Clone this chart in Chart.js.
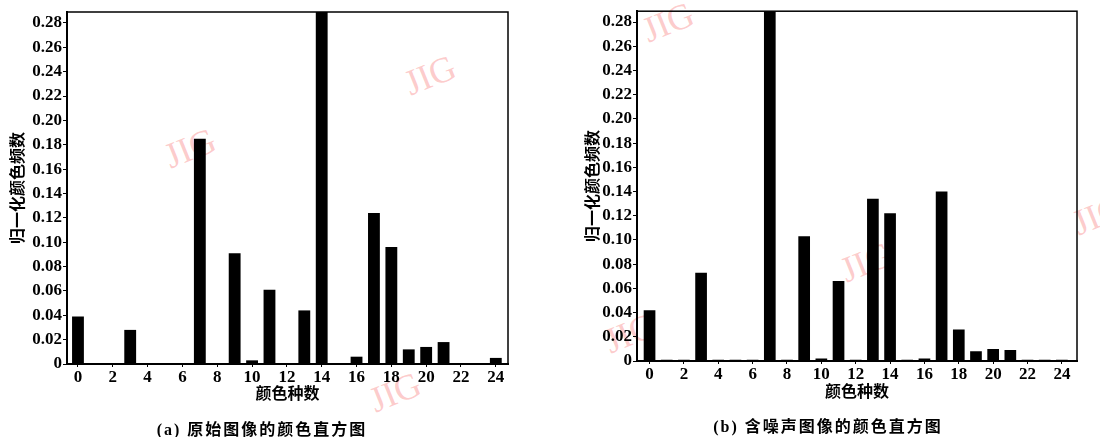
<!DOCTYPE html>
<html>
<head>
<meta charset="utf-8">
<script src="https://cdn.jsdelivr.net/npm/chart.js@4.4.0/dist/chart.umd.min.js"></script>
<style>
  body { margin: 0; background: #fff; width: 1100px; height: 437px; overflow: hidden; position: relative; }
  .box { position: absolute; top: 0; width: 550px; height: 437px; z-index: 1; }
  .caption { position: absolute; z-index: 2; font: bold 16px "Liberation Serif", "Noto Sans CJK SC", serif; letter-spacing: 2px; transform: translate(-50%, -50%); white-space: nowrap; color: #000; }
  .mark { position: absolute; z-index: 0; font: 36px "Liberation Serif", serif; color: rgba(250, 140, 140, 0.45); transform: translate(-50%, -50%) rotate(-22deg); }
</style>
</head>
<body>
<div class="mark" style="left:430px;top:75px">JIG</div>
<div class="mark" style="left:190px;top:148px">JIG</div>
<div class="mark" style="left:395px;top:392px">JIG</div>
<div class="mark" style="left:668px;top:22px">JIG</div>
<div class="mark" style="left:866px;top:262px">JIG</div>
<div class="mark" style="left:630px;top:333px">JIG</div>
<div class="mark" style="left:1098px;top:215px">JIG</div>

<div class="box" style="left:0"><canvas id="chartA"></canvas></div>
<div class="box" style="left:550px"><canvas id="chartB"></canvas></div>
<div class="caption" style="left:262px;top:428px">(a) 原始图像的颜色直方图</div>
<div class="caption" style="left:828px;top:425px">(b) 含噪声图像的颜色直方图</div>

<script>
// colour bins 0..24
const colorIndex = [0, 1, 2, 3, 4, 5, 6, 7, 8, 9, 10, 11, 12, 13, 14, 15, 16, 17, 18, 19, 20, 21, 22, 23, 24];
// (a) original image, bin 14 runs past the top
const originalFreq = [0.039, 0, 0, 0.028, 0, 0, 0, 0.185, 0, 0.091, 0.003, 0.061, 0, 0.044, 0.30,
  0, 0.006, 0.124, 0.096, 0.012, 0.014, 0.018, 0, 0, 0.005];
// (b) noisy image, bin 7 runs past the top
const noisyFreq = [0.042, 0.001, 0.001, 0.073, 0.001, 0.001, 0.001, 0.30, 0.001, 0.103, 0.002, 0.066, 0.001, 0.134, 0.122,
  0.001, 0.002, 0.140, 0.026, 0.008, 0.010, 0.009, 0.001, 0.001, 0.001];
const yTicks = [0, 0.02, 0.04, 0.06, 0.08, 0.10, 0.12, 0.14, 0.16, 0.18, 0.20, 0.22, 0.24, 0.26, 0.28];

const tickFont = { family: 'Liberation Serif', size: 17, weight: 'bold' };
const titleFont = { family: 'Noto Sans CJK SC', size: 16, weight: 'bold' };

// box around the plot area
const framePlugin = {
  id: 'frame',
  afterDatasetsDraw(chart) {
    const { ctx, chartArea: a } = chart;
    ctx.save();
    ctx.strokeStyle = '#000';
    ctx.lineWidth = 1.5;
    ctx.strokeRect(a.left, a.top, a.right - a.left, a.bottom - a.top);
    ctx.restore();
  }
};

function makeChart(id, values, opts) {
  const ctx = document.getElementById(id).getContext('2d');
  return new Chart(ctx, {
    type: 'bar',
    data: {
      datasets: [{
        data: colorIndex.map((c, i) => ({ x: c, y: values[i] })),
        backgroundColor: '#000',
        borderWidth: 0,
        barPercentage: 0.68,
        categoryPercentage: 1
      }]
    },
    options: {
      responsive: false,
      maintainAspectRatio: false,
      animation: false,
      events: [],
      layout: { padding: opts.padding },
      plugins: { legend: { display: false }, tooltip: { enabled: false } },
      scales: {
        x: {
          type: 'linear',
          offset: false,
          min: opts.xMin,
          max: opts.xMax,
          afterFit: s => { s.height = opts.xHeight; },
          grid: { offset: false, drawOnChartArea: false, drawTicks: true, tickLength: 3, color: '#000' },
          border: { color: '#000', width: 2 },
          ticks: {
            stepSize: 2, includeBounds: false, padding: 0, color: '#000', font: tickFont,
            maxRotation: 0, autoSkip: false,
            callback: v => (v >= 0 && v <= 24 && v % 2 === 0) ? String(v) : ''
          },
          title: { display: true, text: '颜色种数', color: '#000', font: titleFont, padding: 0 }
        },
        y: {
          min: 0,
          max: 0.289,
          afterFit: s => { s.width = opts.yWidth; },
          afterBuildTicks: s => { s.ticks = yTicks.map(v => ({ value: v })); },
          grid: { drawOnChartArea: false, drawTicks: true, tickLength: 4, color: '#000' },
          border: { color: '#000', width: 2 },
          ticks: {
            padding: 1, color: '#000', font: tickFont,
            callback: v => v === 0 ? '0' : v.toFixed(2)
          },
          title: { display: true, text: '归一化颜色频数', color: '#000', font: titleFont, padding: { top: opts.yTitlePad, bottom: 0 } }
        }
      }
    },
    plugins: [framePlugin]
  });
}

document.getElementById('chartA').width = 550;
document.getElementById('chartA').height = 437;
document.getElementById('chartB').width = 550;
document.getElementById('chartB').height = 437;

makeChart('chartA', originalFreq, {
  padding: { top: 12, left: 0, right: 42, bottom: 34 },
  xHeight: 39, yWidth: 67, yTitlePad: 7, xMin: -0.63, xMax: 24.7
});
makeChart('chartB', noisyFreq, {
  padding: { top: 6, left: 30, right: 23, bottom: 36 },
  xHeight: 40, yWidth: 57, yTitlePad: 2, xMin: -0.73, xMax: 24.88
});
</script>
</body>
</html>
